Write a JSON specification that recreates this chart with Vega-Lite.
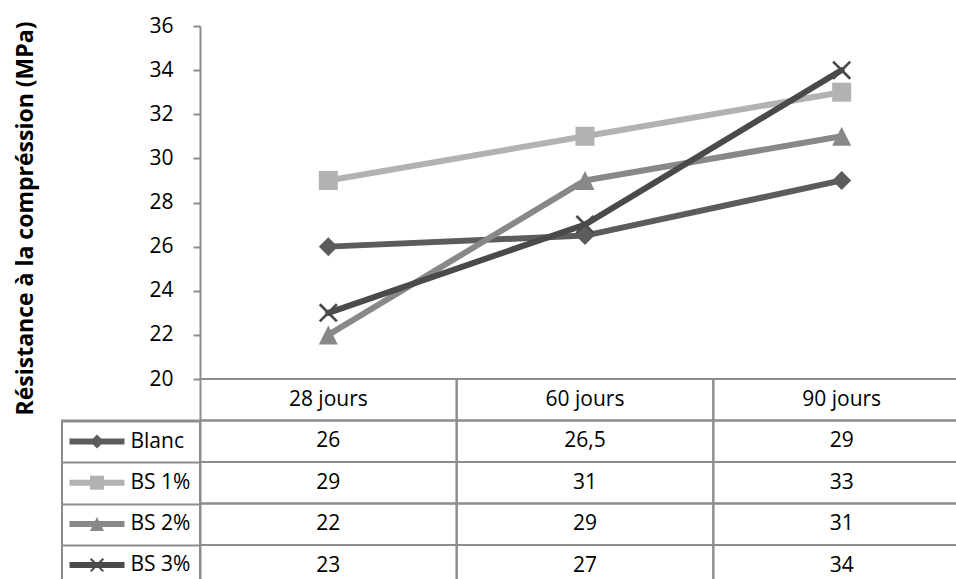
{
  "$schema": "https://vega.github.io/schema/vega-lite/v6.json",
  "width": 756,
  "height": 553,
  "autosize": {"type": "none"},
  "padding": {"left": 200, "top": 26, "right": 0, "bottom": 0},
  "background": "white",
  "config": {
    "view": {"stroke": null},
    "font": "Open Sans",
    "locale": {"number": {"decimal": ",", "thousands": " ", "grouping": [3], "currency": ["", " €"]}},
    "legend": {"strokeWidth": 2}
  },
  "data": {
    "values": [
      {"serie": "Blanc", "t": "28 jours", "v": 26},
      {"serie": "Blanc", "t": "60 jours", "v": 26.5},
      {"serie": "Blanc", "t": "90 jours", "v": 29},
      {"serie": "BS 1%", "t": "28 jours", "v": 29},
      {"serie": "BS 1%", "t": "60 jours", "v": 31},
      {"serie": "BS 1%", "t": "90 jours", "v": 33},
      {"serie": "BS 2%", "t": "28 jours", "v": 22},
      {"serie": "BS 2%", "t": "60 jours", "v": 29},
      {"serie": "BS 2%", "t": "90 jours", "v": 31},
      {"serie": "BS 3%", "t": "28 jours", "v": 23},
      {"serie": "BS 3%", "t": "60 jours", "v": 27},
      {"serie": "BS 3%", "t": "90 jours", "v": 34}
    ]
  },
  "layer": [
    {
      "layer": [
        {
          "mark": {"type": "line", "strokeWidth": 6, "strokeJoin": "round", "strokeCap": "round"},
          "encoding": {
            "x": {"field": "t", "type": "ordinal", "bandPosition": 0.5, "axis": null,
                  "scale": {"type": "band", "domain": ["28 jours", "60 jours", "90 jours"], "range": [0, 770], "paddingInner": 0, "paddingOuter": 0}},
            "y": {"field": "v", "type": "quantitative",
                  "scale": {"domain": [20, 36], "range": [353, 0], "nice": false, "zero": false},
                  "axis": {
                    "values": [20, 22, 24, 26, 28, 30, 32, 34, 36],
                    "grid": false,
                    "domainColor": "#8c8c8c", "domainWidth": 2,
                    "tickColor": "#8c8c8c", "tickWidth": 2, "tickSize": 7,
                    "labelFont": "Open Sans", "labelFontSize": 21, "labelColor": "black", "labelPadding": 20,
                    "title": "Résistance  à  la  compréssion  (MPa)",
                    "titleFont": "Open Sans", "titleFontWeight": "bold", "titleFontSize": 23, "titleColor": "black",
                    "titleX": -163, "titleY": 192, "titleAngle": -90, "titleAlign": "center", "titleBaseline": "bottom"
                  }},
            "stroke": {"field": "serie", "type": "nominal", "sort": ["Blanc", "BS 1%", "BS 2%", "BS 3%"],
                       "scale": {"range": ["#5c5c5c", "#b2b2b2", "#888888", "#4a4a4a"]},
                       "legend": {
                         "title": null, "orient": "none", "legendX": -138, "legendY": 394.5,
                         "symbolType": "M-5,0L5,0", "symbolSize": 121, "symbolStrokeWidth": 6, "symbolOffset": 14,
                         "labelOffset": 23, "labelFont": "Open Sans", "labelFontSize": 21, "labelColor": "black",
                         "rowPadding": 16.2, "padding": 10.5
                       }}
          }
        },
        {
          "mark": {"type": "point", "filled": true, "size": 361, "strokeWidth": 0, "opacity": 1},
          "encoding": {
            "x": {"field": "t", "type": "ordinal", "bandPosition": 0.5, "axis": null},
            "y": {"field": "v", "type": "quantitative"},
            "fill": {"field": "serie", "type": "nominal",
                     "scale": {"domain": ["Blanc", "BS 1%", "BS 2%", "BS 3%"], "range": ["#5c5c5c", "#b2b2b2", "#888888", "#4a4a4a"]},
                     "legend": {
                       "title": null, "orient": "none", "legendX": -138, "legendY": 394.5,
                       "symbolSize": 196, "symbolStrokeWidth": 0, "symbolOffset": 14,
                       "labelOffset": 82, "labelFont": "Open Sans", "labelFontSize": 21, "labelExpr": "''",
                       "rowPadding": 19.2, "padding": 10.5, "strokeColor": "#8c8c8c"
                     }},
            "shape": {"field": "serie", "type": "nominal",
                      "scale": {"domain": ["Blanc", "BS 1%", "BS 2%", "BS 3%"], "range": ["diamond", "square", "M0,-1L1,1L-1,1Z", "M-1,-0.8L-0.8,-1L1,0.8L0.8,1ZM-1,0.8L0.8,-1L1,-0.8L-0.8,1Z"]},
                      "legend": {
                        "title": null, "orient": "none", "legendX": -138, "legendY": 394.5,
                        "symbolSize": 196, "symbolStrokeWidth": 0, "symbolOffset": 14,
                        "labelOffset": 82, "labelFont": "Open Sans", "labelFontSize": 21, "labelExpr": "''",
                        "rowPadding": 19.2, "padding": 10.5, "strokeColor": "#8c8c8c"
                      }}
          }
        }
      ]
    },
    {
      "layer": [
        {
          "mark": {"type": "rect", "filled": false, "stroke": "#8c8c8c", "strokeWidth": 2, "clip": true},
          "encoding": {
            "x": {"field": "t", "type": "ordinal", "axis": null},
            "y": {"field": "serie", "type": "nominal",
                  "scale": {"type": "band", "domain": ["header", "Blanc", "BS 1%", "BS 2%", "BS 3%"], "range": [353, 560.5], "paddingInner": 0, "paddingOuter": 0},
                  "axis": {
                    "orient": "left", "title": null, "labels": false, "grid": false,
                    "values": ["Blanc", "BS 1%", "BS 2%", "BS 3%"],
                    "tickBand": "extent", "tickSize": 138, "tickWidth": 2, "tickColor": "#8c8c8c",
                    "domainColor": "#8c8c8c", "domainWidth": 2
                  }}
          }
        },
        {
          "transform": [{"filter": "datum.serie === 'Blanc'"}],
          "mark": {"type": "rect", "filled": false, "stroke": "#8c8c8c", "strokeWidth": 2, "clip": true},
          "encoding": {
            "x": {"field": "t", "type": "ordinal", "axis": null},
            "y": {"datum": "header", "type": "nominal"}
          }
        },
        {
          "transform": [{"filter": "datum.serie === 'Blanc'"}],
          "mark": {"type": "text", "font": "Open Sans", "fontSize": 21, "color": "black"},
          "encoding": {
            "x": {"field": "t", "type": "ordinal", "bandPosition": 0.5, "axis": null},
            "y": {"datum": "header", "type": "nominal", "bandPosition": 0.5},
            "text": {"field": "t", "type": "nominal"}
          }
        },
        {
          "mark": {"type": "text", "font": "Open Sans", "fontSize": 21, "color": "black"},
          "encoding": {
            "x": {"field": "t", "type": "ordinal", "bandPosition": 0.5, "axis": null},
            "y": {"field": "serie", "type": "nominal", "bandPosition": 0.5},
            "text": {"field": "v", "type": "quantitative", "format": "~g"}
          }
        }
      ]
    }
  ],
  "resolve": {"scale": {"y": "independent"}, "axis": {"y": "independent"}}
}
